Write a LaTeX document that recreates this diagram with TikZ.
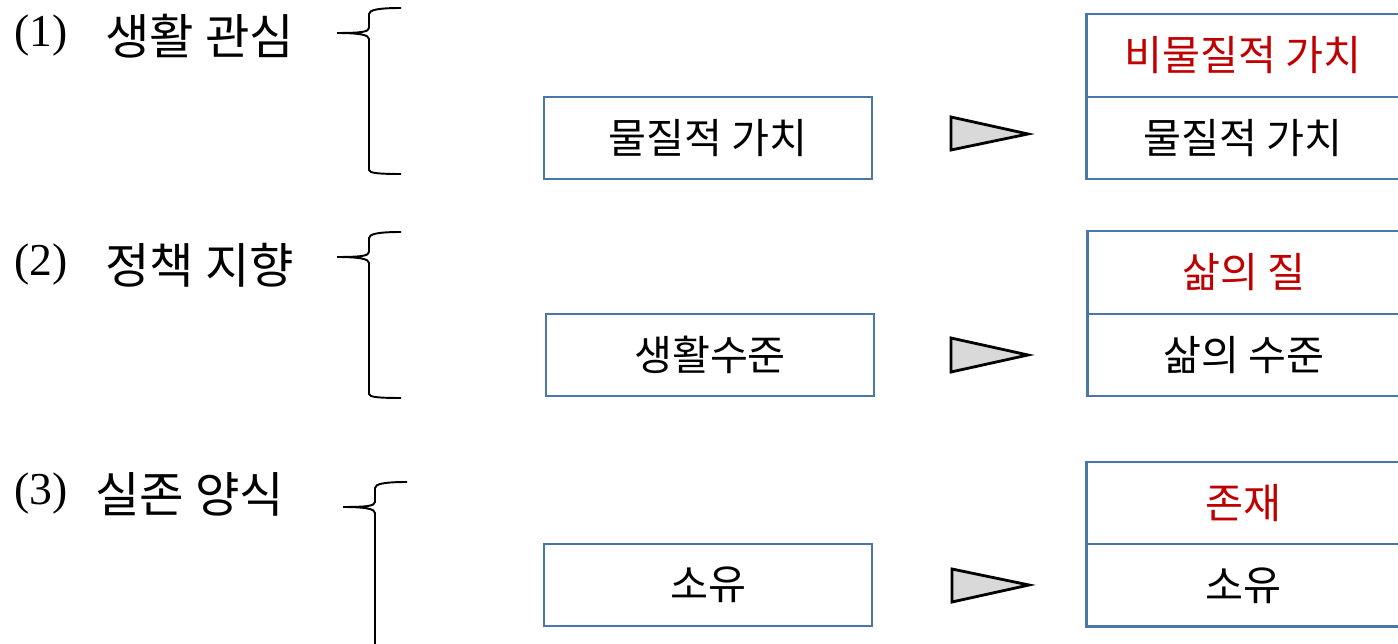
\documentclass[tikz,border=0pt]{standalone}
\usepackage{fontspec}
\setmainfont{Liberation Serif}
\newfontfamily\kr{Noto Sans CJK KR}
\usetikzlibrary{positioning}
\definecolor{boxblue}{HTML}{4A76A8}
\definecolor{valred}{HTML}{C00000}
\definecolor{tipgray}{HTML}{D9D9D9}

\begin{document}
\begin{tikzpicture}[x=0.02cm, y=-0.02cm,
    box/.style={draw=boxblue, line width=1.4pt, outer sep=0pt, inner sep=0pt,
      minimum width=6.56cm, minimum height=1.64cm, font=\kr\fontsize{23.5}{28}\selectfont},
    cell/.style={box, minimum width=6.26cm, minimum height=1.65cm},
    newval/.style={text=valred},
    brace/.style={line width=1.1pt},
    pointer/.style={draw=black, fill=tipgray, line width=1.6pt, line join=miter},
    num/.style={anchor=west, inner sep=0pt, font=\fontsize{26}{30}\selectfont},
    topic/.style={anchor=west, inner sep=0pt, font=\kr\fontsize{27.5}{32}\selectfont}]
  \useasboundingbox (0,0) rectangle (1398,644);
  \clip (0,0) rectangle (1398,644);

  % (1) 생활 관심
  \node[num] (n1) at (14,36) {(1)};
  \node[topic] (t1) at (105,36) {생활 관심};
  \draw[brace] (401,8) .. controls (378,8) and (369,10) .. (369,14) -- (369,28)
    .. controls (369,32) and (360,33) .. (337,33) .. controls (360,33) and (369,35) .. (369,39)
    -- (369,170) .. controls (369,173) and (378,174) .. (401,174);
  \node[box] (old1) at (708,138) {물질적 가치};
  \draw[pointer] (951,117) -- (951,150) -- (1028,134) -- cycle;
  \node[cell, newval] (new1) at (1243,55.5) {비물질적 가치};
  \node[cell, below=0pt of new1] (was1) {물질적 가치};

  % (2) 정책 지향
  \node[num] (n2) at (14,265) {(2)};
  \node[topic] (t2) at (105,265) {정책 지향};
  \draw[brace] (401,232) .. controls (378,232) and (369,234) .. (369,238) -- (369,252)
    .. controls (369,256) and (360,257) .. (337,257) .. controls (360,257) and (369,259) .. (369,263)
    -- (369,394) .. controls (369,397) and (378,398) .. (401,398);
  \node[box] (old2) at (710,355) {생활수준};
  \draw[pointer] (951,338) -- (951,372) -- (1028,355) -- cycle;
  \node[cell, newval] (new2) at (1244,272.5) {삶의 질};
  \node[cell, below=0pt of new2] (was2) {삶의 수준};

  % (3) 실존 양식
  \node[num] (n3) at (14,494) {(3)};
  \node[topic] (t3) at (95,494) {실존 양식};
  \draw[brace] (407,482) .. controls (384,482) and (375,484) .. (375,488) -- (375,502)
    .. controls (375,506) and (366,507) .. (343,507) .. controls (366,507) and (375,509) .. (375,513)
    -- (375,660);
  \node[box] (old3) at (708,585) {소유};
  \draw[pointer] (952,569) -- (952,602) -- (1029,585) -- cycle;
  \node[cell, newval] (new3) at (1243,503) {존재};
  \node[cell, below=0pt of new3] (was3) {소유};
\end{tikzpicture}
\end{document}
